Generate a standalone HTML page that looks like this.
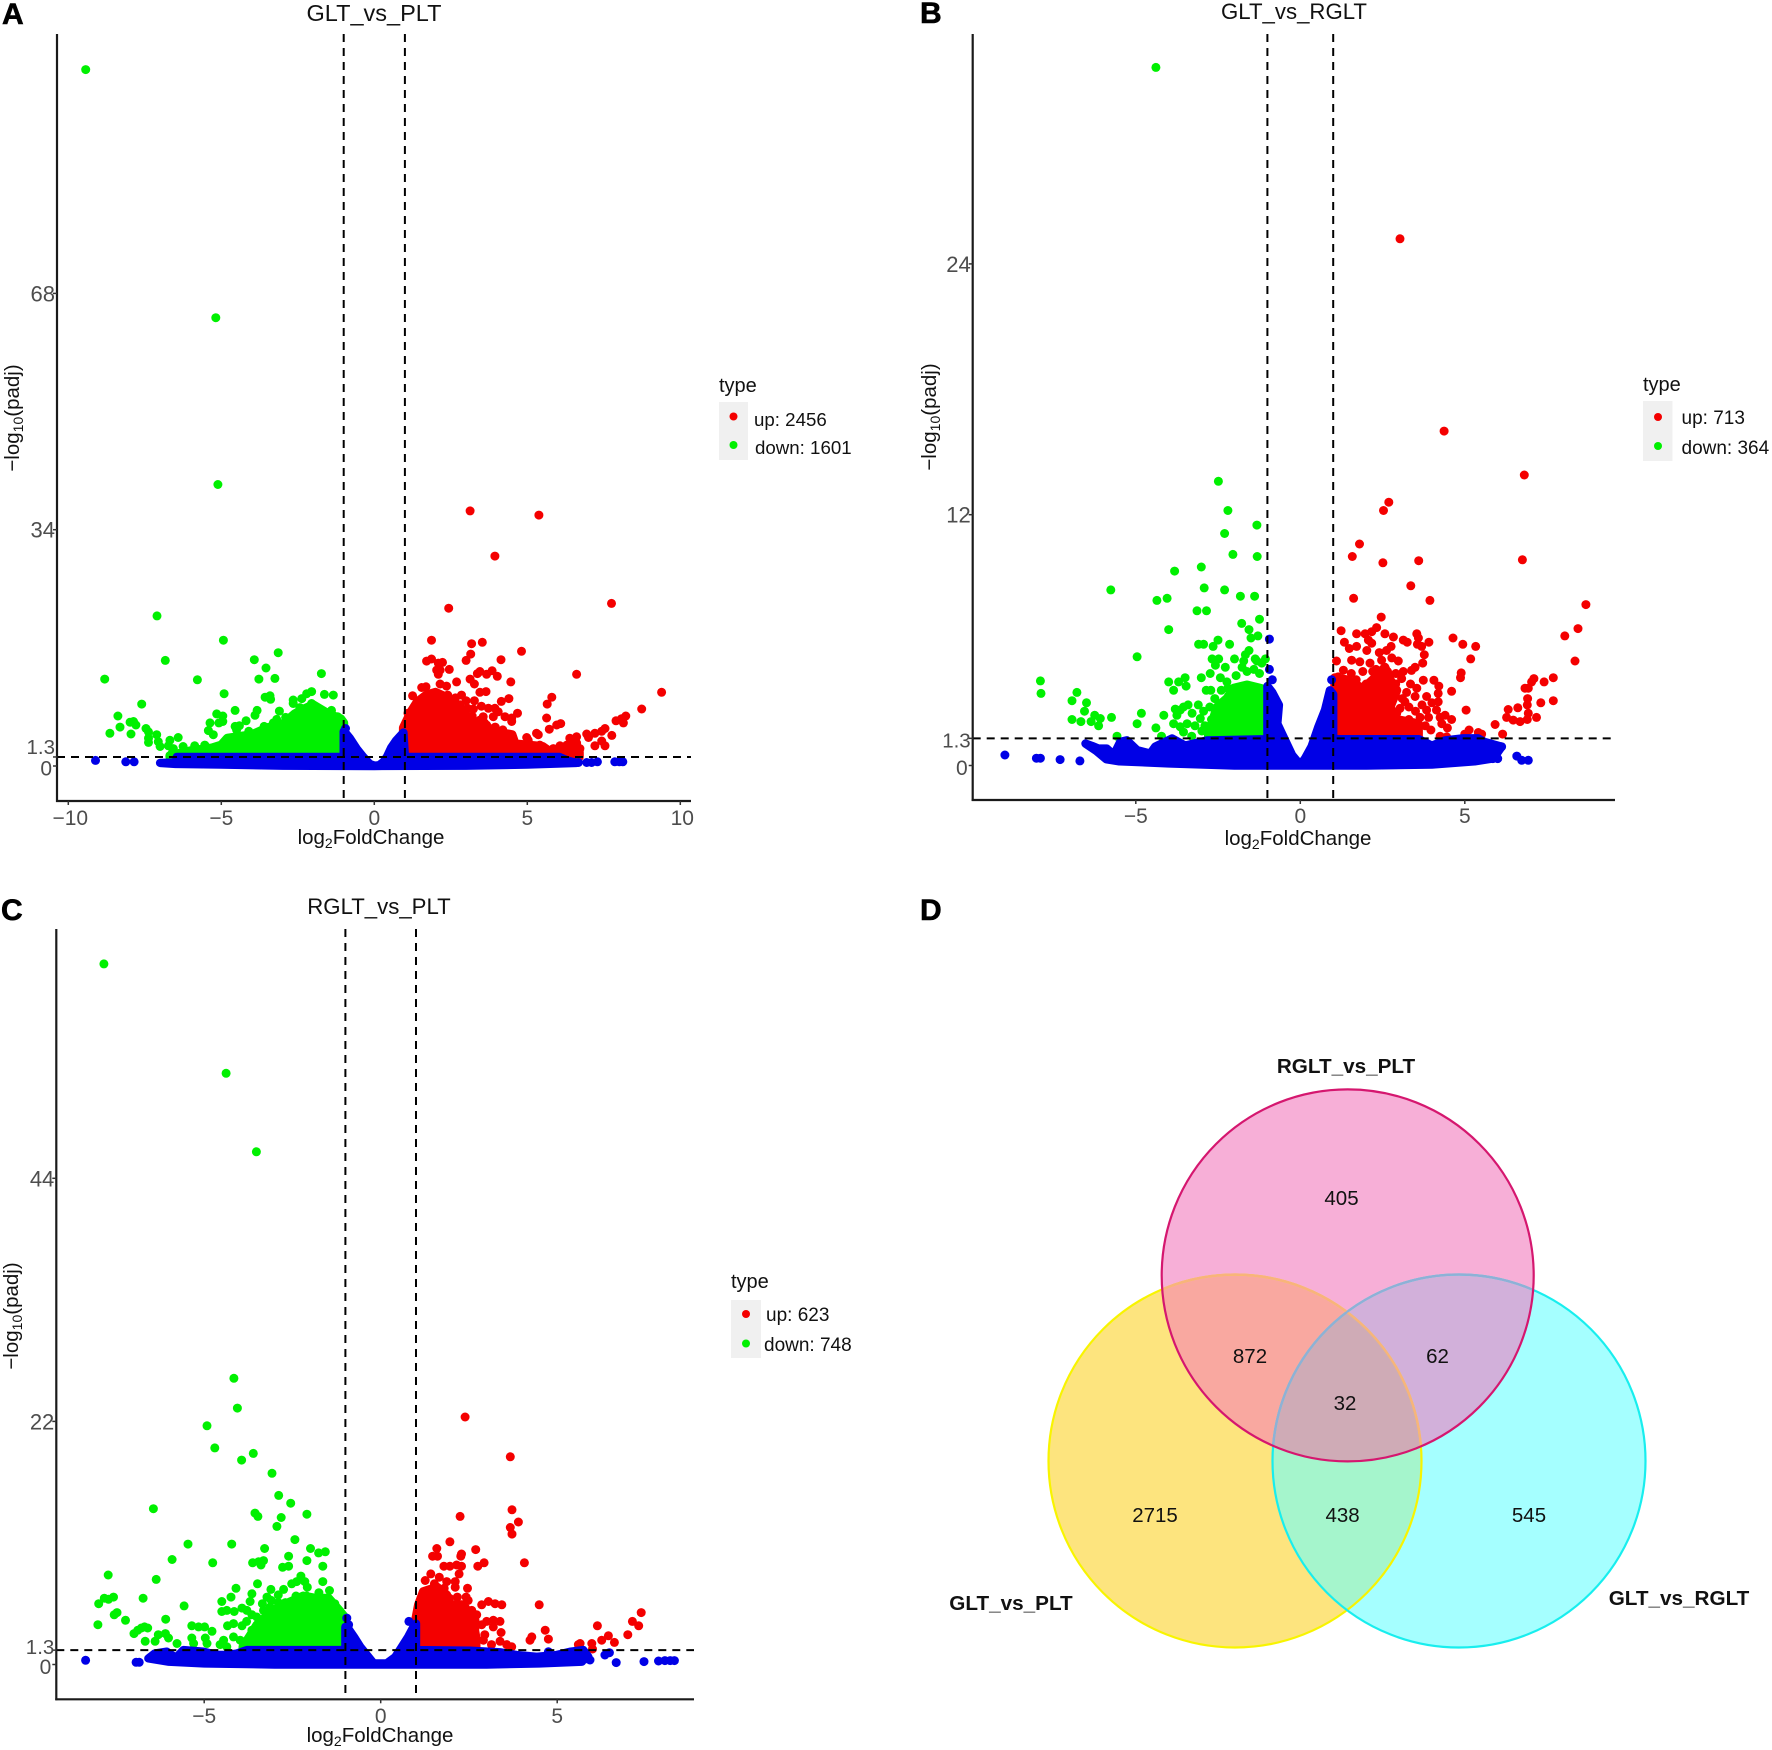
<!DOCTYPE html>
<html lang="en">
<head>
<meta charset="utf-8">
<title>Volcano plots and Venn diagram</title>
<style>
html,body{margin:0;padding:0;background:#fff}
svg{display:block}
text{font-family:"Liberation Sans",sans-serif}
</style>
</head>
<body>
<svg id="figure" xmlns="http://www.w3.org/2000/svg" width="1772" height="1750" viewBox="0 0 1772 1750">
<rect width="1772" height="1750" fill="#fff"/>

<g id="panel-a"></g>
<g id="panel-b"></g>
<g id="panel-c"></g>

<text x="2" y="24" font-size="30" font-weight="bold" fill="#000" stroke="#000" stroke-width="0.6">A</text>
<text x="920" y="23" font-size="30" font-weight="bold" fill="#000" stroke="#000" stroke-width="0.6">B</text>
<text x="1" y="920" font-size="30" font-weight="bold" fill="#000" stroke="#000" stroke-width="0.6">C</text>
<text x="920" y="920" font-size="30" font-weight="bold" fill="#000" stroke="#000" stroke-width="0.6">D</text>

<text x="374" y="21" font-size="23.5" text-anchor="middle" fill="#111">GLT_vs_PLT</text>
<text x="1294" y="19" font-size="22.2" text-anchor="middle" fill="#111">GLT_vs_RGLT</text>
<text x="379" y="914" font-size="22.2" text-anchor="middle" fill="#111">RGLT_vs_PLT</text>

<text x="371" y="844" font-size="20.5" text-anchor="middle" fill="#111">log<tspan dy="4" font-size="14">2</tspan><tspan dy="-4">FoldChange</tspan></text>
<text x="1298" y="845" font-size="20.5" text-anchor="middle" fill="#111">log<tspan dy="4" font-size="14">2</tspan><tspan dy="-4">FoldChange</tspan></text>
<text x="380" y="1742" font-size="20.5" text-anchor="middle" fill="#111">log<tspan dy="4" font-size="14">2</tspan><tspan dy="-4">FoldChange</tspan></text>

<text transform="translate(19,418) rotate(-90)" font-size="20.5" text-anchor="middle" fill="#111">−log<tspan dy="4" font-size="14">10</tspan><tspan dy="-4">(padj)</tspan></text>
<text transform="translate(936,417) rotate(-90)" font-size="20.5" text-anchor="middle" fill="#111">−log<tspan dy="4" font-size="14">10</tspan><tspan dy="-4">(padj)</tspan></text>
<text transform="translate(18,1316) rotate(-90)" font-size="20.5" text-anchor="middle" fill="#111">−log<tspan dy="4" font-size="14">10</tspan><tspan dy="-4">(padj)</tspan></text>

<g>
  <text x="719" y="392" font-size="20" fill="#111">type</text>
  <rect x="719" y="402" width="29" height="58" fill="#f0f0f0"/>
  <circle cx="733.5" cy="416.5" r="4" fill="#f40000"/>
  <circle cx="733.5" cy="445" r="4" fill="#00f000"/>
  <text x="754" y="426" font-size="18.7" fill="#111">up: 2456</text>
  <text x="755" y="454" font-size="18.7" fill="#111">down: 1601</text>
</g>
<g>
  <text x="1643" y="391" font-size="20" fill="#111">type</text>
  <rect x="1643" y="401" width="29.500" height="60" fill="#f0f0f0"/>
  <circle cx="1658" cy="417" r="4" fill="#f40000"/>
  <circle cx="1658" cy="446" r="4" fill="#00f000"/>
  <text x="1681.500" y="424" font-size="19" fill="#111">up: 713</text>
  <text x="1681.500" y="454" font-size="19" fill="#111">down: 364</text>
</g>
<g>
  <text x="731" y="1288" font-size="20" fill="#111">type</text>
  <rect x="731" y="1300" width="30" height="58" fill="#f0f0f0"/>
  <circle cx="746" cy="1314" r="4" fill="#f40000"/>
  <circle cx="746" cy="1343.500" r="4" fill="#00f000"/>
  <text x="766" y="1321" font-size="19" fill="#111">up: 623</text>
  <text x="764" y="1351" font-size="19" fill="#111">down: 748</text>
</g>

<g>
  <defs>
    <clipPath id="clip-pink"><circle cx="1347.700" cy="1275.400" r="186"/></clipPath>
    <clipPath id="clip-yellow"><circle cx="1235" cy="1461" r="186.500"/></clipPath>
    <clipPath id="clip-cyan"><circle cx="1459" cy="1461" r="186.500"/></clipPath>
  </defs>
  <circle cx="1235" cy="1461" r="186.500" fill="#fde47e"/>
  <circle cx="1459" cy="1461" r="186.500" fill="#a5ffff"/>
  <circle cx="1347.700" cy="1275.400" r="186" fill="#f7afd7"/>
  <g clip-path="url(#clip-yellow)"><circle cx="1347.700" cy="1275.400" r="186" fill="#f9a8a0"/></g>
  <g clip-path="url(#clip-cyan)"><circle cx="1347.700" cy="1275.400" r="186" fill="#d2b0da"/></g>
  <g clip-path="url(#clip-cyan)"><circle cx="1235" cy="1461" r="186.500" fill="#a5f5cc"/></g>
  <g clip-path="url(#clip-cyan)"><g clip-path="url(#clip-yellow)"><circle cx="1347.700" cy="1275.400" r="186" fill="#cfabb6"/></g></g>
  <circle cx="1235" cy="1461" r="186.500" fill="none" stroke="#f8f400" stroke-width="2.200"/>
  <circle cx="1459" cy="1461" r="186.500" fill="none" stroke="#18eeee" stroke-width="2.200"/>
  <g clip-path="url(#clip-pink)">
    <circle cx="1235" cy="1461" r="186.500" fill="none" stroke="#f8b37c" stroke-width="2.200"/>
    <circle cx="1459" cy="1461" r="186.500" fill="none" stroke="#8fb0d6" stroke-width="2.200"/>
  </g>
  <circle cx="1347.700" cy="1275.400" r="186" fill="none" stroke="#d5176f" stroke-width="2.200"/>
  <g font-size="20.500" text-anchor="middle" fill="#111">
    <text x="1341.500" y="1205">405</text>
    <text x="1250" y="1363">872</text>
    <text x="1437.500" y="1363">62</text>
    <text x="1345" y="1410">32</text>
    <text x="1155" y="1522">2715</text>
    <text x="1342.600" y="1522">438</text>
    <text x="1529" y="1522">545</text>
  </g>
  <g font-size="20.700" font-weight="bold" text-anchor="middle" fill="#111">
    <text x="1346" y="1073">RGLT_vs_PLT</text>
    <text x="1011" y="1610">GLT_vs_PLT</text>
    <text x="1679" y="1605">GLT_vs_RGLT</text>
  </g>
</g>
</svg>

<script>
/* ---------- Panel A data (log2FC, -log10 padj) ---------- */
const aXTicks=[-10,-5,0,5,10];
const aXTickLabels=["−10","−5","0","5","10"];
const aYTicks=[0,1.3,34,68];
const aYTickLabels=["0","1.3","34","68"];
const aDownPoints=[[-9.43,100.2],[-5.18,64.5],[-5.11,40.5],[-7.1,21.6],[-4.93,18.1],[-6.83,15.2],[-8.81,12.5],[-5.78,12.4],[-3.92,15.3],[-3.14,16.3],[-3.54,14.1],[-3.77,12.5],[-3.25,12.6],[-1.73,13.3],[-4.91,10.4],[-1.63,10.3],[-1.34,10.2],[-3.57,9.9],[-3.41,10.1],[-3.39,9.6],[-7.6,8.9],[-4.55,8],[-3.83,8],[-3.9,7.3],[-3.1,7.9],[-8.38,7.2],[-5.15,7.5],[-4.95,7.2],[-5.08,6.2],[-4.95,6.4],[-7.98,6.3],[-7.87,6.4],[-7.79,5.9],[-8.31,5.6],[-8.64,4.7],[-7.95,4.6],[-4.19,6.5],[-3.19,6.7],[-5.37,6.2],[-5.42,5.1],[-5.26,4.5],[-4.55,5.7],[-4.41,5.8],[-4.5,5.2],[-7.46,5.4],[-7.38,4.9],[-7.38,4],[-7.38,3.4],[-7.11,4.5],[-7.06,3.5],[-7,2.8],[-6.68,3.7],[-6.41,4.1],[-6.73,2.9],[-6.57,2.5],[-6.25,2.8],[-5.87,2.9],[-5.54,3],[-5.15,2.5],[-6.6,1.9],[-2.65,9],[-2.37,9.7],[-2.21,10.4],[-2.05,10.7],[-2.65,9.5],[-2.43,8.4],[-2.05,9],[-2.43,7.6],[-1.77,8],[-1.6,7.6],[-1.4,8],[-1.2,7.1],[-2.9,7],[-3.3,6.2],[-3.6,5.7],[-4.1,5]];
const aUpPoints=[[3.13,36.7],[5.38,36.1],[3.94,30.2],[2.43,22.7],[7.75,23.4],[1.87,18.1],[3.18,17.6],[3.53,17.8],[4.81,16.5],[3.15,16.1],[3,15.2],[4.14,15.3],[1.71,15.1],[1.87,15.4],[2.09,14.8],[2.23,14.9],[2.04,13.8],[2.15,13.8],[2.09,13.2],[2.45,13.9],[6.61,13.2],[3.37,13.3],[3.45,13.6],[3.67,13.2],[3.85,13.7],[4.02,12.9],[2.69,12.1],[3.13,12.5],[3.27,11.8],[4.46,12.1],[1.55,11.3],[1.69,11.4],[2.15,11.8],[2.36,11.5],[9.39,10.6],[1.25,10.1],[3.45,10.6],[3.65,10.7],[5.8,9.9],[5.65,8.9],[4.4,9.7],[4.15,9.3],[3.27,9.4],[3.24,8.2],[8.74,8.2],[3.5,8.6],[3.73,8.3],[3.94,8.3],[4.05,7.8],[3.89,7.1],[4.68,7.6],[4.27,7.1],[4.49,6.9],[4.49,6.4],[5.63,6.9],[5.72,5.3],[5.96,5.9],[6.09,6.1],[8.22,7.2],[8.08,6.8],[7.9,6.5],[8.14,6.2],[7.54,5.4],[7.43,5],[7.21,4.7],[6.94,4.6],[7,4.1],[7.76,4.4],[7.43,3.6],[7.54,2.9],[7.21,2.9],[6.61,4.2],[6.39,4],[6.72,2.5],[6.39,2.8],[6.07,2.9],[5.85,2.5],[5.3,4.7],[5.36,4.5],[4.98,4.1],[5.03,3.7],[5.41,3],[5.14,2.8],[4.81,2.5],[6.5,3.4],[6.61,3.3],[6.29,3],[4.32,4.5],[4.49,4.2],[4,4.2],[3.67,5.9],[3.45,6.6],[3.56,7.1],[3.18,5.9],[3.34,6.1],[3.78,5.4],[2.65,9.8],[2.85,10.2],[3,9.4],[2.8,8.8],[1.1,7.6],[2.4,10.2],[2,10.2],[3.05,8.3],[3.2,7.2],[3.1,6.6],[3.6,6.2],[3.95,5.6],[4.2,5.2]];
const aNsPoints=[[-9.11,0.8],[-8.12,0.6],[-7.85,0.6],[5.63,0.86],[5.85,0.86],[6.01,0.86],[6.29,0.5],[6.56,0.5],[6.67,0.5],[6.94,0.5],[7.1,0.5],[7.29,0.6],[7.86,0.6],[8.01,0.6],[8.12,0.6],[-0.94,5.4]];
const aDownCore=[[-6.68,1.5],[-6,2.2],[-5.3,2.6],[-5,3],[-4.8,4],[-4,4.5],[-3.5,5.5],[-3,6],[-2.6,7.5],[-2.4,8],[-2,8.8],[-1.5,7.5],[-1.1,6.8],[-1,6.2]];
const aUpCore=[[0.95,5.5],[1.2,7.8],[1.4,9.2],[1.7,10.2],[2,10.6],[2.3,10],[2.6,9.2],[2.9,8],[3.1,6.8],[3.4,6],[3.9,5],[4.5,4.5],[4.6,3.2],[5.5,2.8],[5.7,2.2],[6.1,2],[6.6,3],[6.7,2]];
const aNsTop=[[-7,0.45],[-6.5,0.5],[-6.45,1.3],[-1,1.3],[-1,5],[-0.95,4.8],[-0.8,4],[-0.58,2.5],[-0.36,1.3],[-0.15,0.3],[0,0.05],[0.15,0.1],[0.3,0.6],[0.42,1.4],[0.55,2.6],[0.72,3.7],[0.95,4.8],[1,1.3],[6.05,1.3],[6.3,0.8],[6.6,0.45]];
const aNsBottom=[[6.6,0.45],[6,0.35],[5,0.2],[3,0.05],[0,0],[-3,0.05],[-5,0.2],[-6.5,0.3],[-7,0.45]];

/* ---------- Panel B data ---------- */
const bXTicks=[-5,0,5];
const bXTickLabels=["−5","0","5"];
const bYTicks=[0,1.3,12,24];
const bYTickLabels=["0","1.3","12","24"];
const bDownPoints=[[-4.39,33.4],[-2.49,13.6],[-2.2,12.2],[-1.32,11.5],[-2.3,11.1],[-2.05,10.1],[-1.31,10],[-3.01,9.5],[-3.82,9.3],[-2.92,8.5],[-2.3,8.4],[-5.76,8.4],[-4.05,8],[-4.36,7.9],[-1.82,8.1],[-1.39,8.1],[-3.14,7.4],[-2.85,7.4],[-1.24,7],[-1.78,6.8],[-1.56,6.5],[-4,6.5],[-1.29,6.2],[-1.5,6.1],[-2.5,6],[-3.09,5.8],[-2.94,5.8],[-2.15,5.8],[-2.65,5.7],[-4.96,5.2],[-1.56,5.5],[-1.67,5.3],[-2,5.1],[-1.72,5],[-1.37,5.1],[-1.06,5.1],[-1.17,4.9],[-1.32,5],[-2.68,5.1],[-2.48,5.1],[-2.58,4.8],[-2.28,4.7],[-1.77,4.7],[-1.62,4.5],[-1.41,4.6],[-2.74,4.4],[-3.01,4.2],[-1.95,4.3],[-1.24,4.4],[-7.9,4.05],[-7.88,3.45],[-4,4],[-3.7,4],[-3.5,4.2],[-3.47,3.8],[-2.43,4.2],[-2.23,4],[-3.85,3.6],[-2.86,3.6],[-2.72,3.6],[-6.79,3.5],[-6.94,3.1],[-6.5,3],[-6.56,2.6],[-6.25,2.4],[-6.08,2.25],[-5.74,2.3],[-6.94,2.2],[-6.67,2.1],[-6.36,2.1],[-6.13,1.9],[-5.57,1.4],[-4.83,2.5],[-4.96,2],[-4.15,2.4],[-4.39,1.8],[-4.22,1.4],[-3.85,2],[-3.8,2.7],[-3.65,2.65],[-3.55,2.8],[-3.41,2.9],[-3.29,2.5],[-3.75,2.4],[-3.44,2],[-3.65,1.85],[-2.94,2.6],[-3.04,2.25],[-2.99,1.65],[-3.55,1.6],[-2.6,3.2],[-2.75,2.8],[-2.4,3.6],[-2.2,3.7],[-2.7,2.2],[-2.9,1.9],[-2.7,1.6],[-2.45,2.6],[-3.2,1.9],[-3.3,1.4],[-3.1,2.9],[-2.55,1.9]];
const bUpPoints=[[3.03,25.2],[4.37,16],[6.81,13.9],[6.75,9.84],[2.69,12.6],[2.53,12.2],[1.8,10.6],[1.58,10],[2.51,9.7],[3.6,9.8],[3.36,8.6],[1.62,8],[3.94,7.9],[8.68,7.7],[2.46,7.1],[8.44,6.55],[8.04,6.2],[1.24,6.45],[2.32,6.6],[1.71,6.3],[1.97,6.3],[2.17,6.4],[2.57,6.3],[2.83,6.15],[1.34,5.9],[1.49,5.6],[1.71,5.7],[2.07,6],[2.17,5.85],[2.02,5.5],[3.13,6],[3.25,5.9],[3.54,6.3],[3.59,6.1],[3.56,5.8],[3.69,5.7],[3.91,5.9],[2.62,5.5],[2.76,5.7],[4.64,6.1],[4.94,5.8],[5.33,5.7],[5.18,5.1],[8.35,5],[3.77,5.3],[3.72,4.9],[3.49,4.7],[3.38,4.55],[2.98,5],[2.78,5.15],[1.1,5],[1.56,5.04],[1.81,4.96],[2.12,4.9],[2.47,5.04],[1.31,4.56],[1.15,4.24],[4.89,4.43],[4.87,4.2],[3.13,4.5],[3.08,4.16],[3.74,4.08],[4.06,4.08],[4.21,3.8],[4.19,3.45],[4.6,3.55],[3.54,3.7],[3.84,3.3],[3.49,3.3],[3.23,3.5],[3.18,3.05],[4.19,3.05],[4.14,2.65],[3.84,2.65],[3.64,2.3],[4.25,2.3],[4.4,2.4],[4.6,2.2],[5.04,2.65],[7.69,4.2],[7.41,4],[7.1,4.16],[7.03,4],[6.93,3.7],[6.83,3.7],[7.69,3.1],[7.31,3],[6.91,3.2],[6.9,2.9],[6.61,2.76],[6.32,2.68],[6.93,2.5],[7.18,2.3],[6.27,2.3],[6.47,2.17],[6.68,2.1],[6.9,2.2],[5.92,1.96],[6.15,1.5],[4.47,1.8],[3.97,1.7],[4.25,1.4],[4.45,1.37],[5,1.5],[5.13,1.7],[5.41,1.58],[5.51,1.5],[3.54,1.77],[3.13,1.85],[2.93,2.5],[3.03,2.73],[2.83,3.2],[1.9,4.5],[2.2,4.5],[1.55,4.4],[2.4,5.4],[2.65,4.5],[1.2,3.8],[1.5,3.8],[1.7,4.1],[2,3.9],[2.3,4.6],[2.5,4.4],[2.9,3.9],[3.1,3.2],[3.3,2.8],[3.3,2.2],[3.5,2.6],[3.7,2.9],[3.9,2.3],[3.8,1.9],[3.3,1.6],[3.1,1.5],[4,3],[4.3,2],[2.9,4.4],[3.35,3.9]];
const bNsPoints=[[-8.98,0.5],[-8.02,0.35],[-7.9,0.35],[-7.3,0.28],[-6.7,0.22],[-0.94,6.05],[-0.94,4.6],[-0.85,4.1],[6.58,0.45],[6.73,0.25],[6.93,0.25],[0.95,4.1],[6.12,0.9],[6,0.33],[5.85,0.33]];
const bDownCore=[[-2.79,1.5],[-2.53,2.8],[-2.23,3.2],[-2.03,3.7],[-1.62,3.85],[-1.22,3.7],[-1.06,3.6],[-1,3.4]];
const bUpCore=[[1.05,4.2],[1.41,4.1],[1.91,3.68],[2.27,4.2],[2.57,4.7],[2.73,4.1],[2.93,3.6],[2.73,2.8],[2.93,2.2],[3.59,2],[3.59,1.5]];
const bNsTop=[[-6.53,1.05],[-6.33,0.94],[-6.13,0.81],[-5.88,0.81],[-5.67,0.5],[-5.47,1.13],[-5.27,1.2],[-4.96,0.73],[-4.56,0.57],[-4.41,0.9],[-3.9,1.29],[-3.5,0.95],[-2.84,1.2],[-1,1.26],[-1,3.8],[-0.85,3.5],[-0.65,2.9],[-0.7,2],[-0.46,1.2],[-0.25,0.5],[0,0.03],[0.14,0.33],[0.34,0.9],[0.55,1.85],[0.75,2.65],[0.9,3.6],[1,3.4],[1,1.26],[3.6,1.26],[4,0.95],[4.4,1.2],[4.95,1.3],[5.4,1.3],[5.6,1.13],[6.12,0.9],[5.9,0.4]];
const bNsBottom=[[5.9,0.35],[5.3,0.2],[4,0.05],[2,0],[0,0],[-2,0],[-4,0.1],[-5.5,0.2],[-5.9,0.3],[-6.2,0.7],[-6.53,1.05]];

/* ---------- Panel C data ---------- */
const cXTicks=[-5,0,5];
const cXTickLabels=["−5","0","5"];
const cYTicks=[0,1.3,22,44];
const cYTickLabels=["0","1.3","22","44"];
const cDownPoints=[[-7.84,63.4],[-4.38,53.5],[-3.52,46.4],[-4.16,25.9],[-4.06,23.2],[-4.92,21.6],[-4.7,19.6],[-3.61,19.1],[-3.94,18.5],[-3.08,17.3],[-2.89,15.3],[-2.55,14.6],[-6.44,14.1],[-3.56,13.7],[-3.48,13.4],[-2.09,13.6],[-2.82,13.3],[-2.94,12.5],[-2.43,11.3],[-5.46,10.9],[-4.22,10.9],[-3.29,10.5],[-1.99,10.5],[-2.61,9.8],[-1.76,10.1],[-1.57,10.2],[-5.91,9.5],[-4.76,9.2],[-3.63,9.2],[-3.46,9.3],[-3.32,9.4],[-3.39,9],[-2.09,9.4],[-1.64,8.9],[-2.78,8.8],[-2.61,8.9],[-7.72,8.1],[-6.36,7.7],[-2.26,8],[-2.52,7.3],[-2.38,7.5],[-2.15,7.5],[-2.08,7],[-1.64,7.5],[-3.49,7.3],[-4.1,6.9],[-4.24,6.1],[-4.5,5.7],[-3.65,6.4],[-3.7,5.7],[-3.11,6.8],[-3.22,6.1],[-2.75,6.8],[-2.9,6.3],[-1.45,6.7],[-7.99,5.5],[-7.83,6],[-7.71,5.9],[-7.57,6.1],[-6.73,6],[-5.57,5.3],[-4.5,4.8],[-4.36,4.9],[-4.15,4.8],[-3.93,5.1],[-3.79,4.9],[-3.65,4.5],[-3.51,4.3],[-7.55,4.5],[-7.47,4.7],[-8.01,3.6],[-7.23,4],[-6.09,4.1],[-6.69,3.4],[-6.78,3.3],[-6.88,3.1],[-6.99,2.8],[-6.6,3.3],[-6.67,2.1],[-6.39,2.1],[-6.3,2.7],[-6.1,2.8],[-6.01,2.4],[-5.77,1.9],[-5.35,3.5],[-5.16,3.4],[-4.99,3.4],[-4.78,3],[-5.35,2.4],[-5.3,1.9],[-4.97,2.4],[-4.92,1.9],[-4.45,2.2],[-4.55,1.8],[-4.36,1.6],[-4.34,3.5],[-4.17,3.7],[-3.93,3.5],[-4.17,2.5],[-3.98,2.2],[-3.65,3.1],[-3.32,4.9],[-3.13,5.2],[-2.94,4.6],[-2.66,4.9],[-3.1,5.8],[-2.4,6.2],[-2.1,6.2],[-1.9,5.7],[-1.55,5.9],[-2.7,5.6],[-3.35,5.5],[-3.8,3.9],[-3.6,2.4],[-2.9,5.6],[-1.75,6.5],[-1.3,5.5],[-1.15,4.8]];
const cUpPoints=[[2.39,22.4],[3.67,18.8],[3.72,14],[2.25,13.4],[3.9,12.9],[3.67,12.4],[3.72,11.8],[1.96,11.1],[1.59,10.5],[2.69,10.4],[1.47,9.8],[1.61,9.8],[2.29,10],[2.27,9.8],[4.07,9.2],[2.93,9.2],[2.75,8.9],[1.79,8.9],[1.96,8.9],[2.15,9],[2.29,8.9],[1.42,8.2],[1.26,7.6],[1.52,7.3],[1.66,7.9],[1.87,7.5],[2.22,8.2],[2.11,7.5],[2.11,7],[2.46,6.9],[2.17,6.1],[2.42,6.1],[2.48,5.8],[4.49,5.4],[2.86,5.4],[3.05,5.7],[3.24,5.5],[3.43,5.4],[2.58,4.9],[2.72,4.5],[2.67,4],[2.86,3.6],[3,3.9],[3.19,4],[3.38,3.9],[2.67,3.3],[3.19,3.4],[3.41,2.9],[2.95,2.7],[2.91,2.2],[3.14,1.8],[3.38,2.1],[3.57,1.8],[3.71,1.6],[7.38,4.7],[7.13,3.9],[7.31,3.5],[7,2.7],[6.14,3.5],[6.45,2.6],[6.26,2.2],[6.62,2],[4.66,3.1],[4.75,2.3],[4.28,2.5],[4.23,2.2],[5.65,1.9],[5.98,1.9],[6,1.4],[5.6,1.8],[1.8,6.9],[1.6,7],[1.4,6.5],[1.95,6]];
const cNsPoints=[[-8.36,0.38],[-6.93,0.2],[-6.84,0.2],[5.93,0.41],[6.35,0.86],[6.48,1.07],[6.67,0.17],[7.46,0.26],[7.87,0.32],[8.05,0.35],[8.2,0.35],[8.32,0.35],[-0.96,4.2],[-0.91,3.6],[0.8,3.9],[4.75,1.15]];
const cDownCore=[[-3.9,1.6],[-3.7,2.6],[-3.5,3.6],[-3.22,4.4],[-2.89,5.2],[-2.61,5.6],[-2.19,6.2],[-1.86,6],[-1.48,6],[-1.2,5],[-1,4.2]];
const cUpCore=[[1,4.2],[1.07,5.4],[1.21,6.6],[1.59,7],[1.87,6.3],[1.87,5.4],[2.34,5.4],[2.6,4.2],[2.7,2.4],[2.7,1.6]];
const cNsTop=[[-6.58,0.55],[-6.4,1],[-6.06,1.16],[-5.8,0.6],[-5.59,1.3],[-5.02,1.16],[-4.64,0.86],[-4.36,0.86],[-4.07,1],[-3.79,1.3],[-1,1.3],[-1,3.4],[-0.91,3.2],[-0.75,2.46],[-0.58,1.6],[-0.39,0.86],[-0.2,0.1],[0.17,0.1],[0.41,0.66],[0.6,1.6],[0.78,2.5],[0.93,3.4],[1,3.7],[1,1.3],[2.53,1.25],[3.38,1.1],[3.85,0.86],[4.42,0.7],[4.99,0.86],[5.36,1.15],[5.74,1.3],[5.88,0.7],[5.7,0.3]];
const cNsBottom=[[5.7,0.25],[4.5,0.1],[3,0],[0,0],[-3,0],[-5,0.1],[-6,0.25],[-6.58,0.55]];

const SVGNS='http://www.w3.org/2000/svg';
const DOT_R=4.5;
const UP='#f40000', DOWN='#00f000', NS='#0000e6', AXIS='#1a1a1a', TICKTEXT='#4d4d4d';
const THRESHOLD=1.3, FOLD=1;

function el(parent,tag,attrs){
  const node=document.createElementNS(SVGNS,tag);
  for(const k in attrs){node.setAttribute(k,attrs[k]);}
  parent.appendChild(node);
  return node;
}

function drawVolcano(p){
  const root=document.getElementById(p.id);
  const sx=function(v){return p.xZero+v*p.xUnit;};
  const sy=function(v){return p.yZero-v*p.yUnit;};

  function corePath(top,bottom){
    let d='';
    top.forEach(function(pt,i){d+=(i?'L':'M')+sx(pt[0]).toFixed(1)+' '+sy(pt[1]).toFixed(1);});
    bottom.forEach(function(pt){d+='L'+sx(pt[0]).toFixed(1)+' '+sy(pt[1]).toFixed(1);});
    return d+'Z';
  }
  function drawCore(top,bottom,color,name,width){
    const core=el(root,'path',{d:corePath(top,bottom),fill:color,stroke:color,'stroke-width':width,'stroke-linejoin':'round'});
    
    
  }
  function drawDots(points,color,name){
    const group=el(root,'g',{fill:color});
    
    
    points.forEach(function(pt){
      const dot=el(group,'circle',{cx:sx(pt[0]).toFixed(1),cy:sy(pt[1]).toFixed(1),r:DOT_R});
      
      
    });
  }
  function base(core){
    return [[core[core.length-1][0],THRESHOLD],[core[0][0],THRESHOLD]];
  }

  drawCore(p.downCore,base(p.downCore),DOWN,'down-regulated-dense-cloud',DOT_R*2);
  drawCore(p.upCore,base(p.upCore),UP,'up-regulated-dense-cloud',DOT_R*2);
  drawDots(p.down,DOWN,'down-regulated');
  drawDots(p.up,UP,'up-regulated');
  drawCore(p.nsTop,p.nsBottom,NS,'not-significant-dense-cloud',8.4);
  drawDots(p.ns,NS,'not-significant');

  /* threshold lines */
  [-FOLD,FOLD].forEach(function(v){
    const line=el(root,'line',{x1:sx(v),x2:sx(v),y1:p.axisTop,y2:p.axisBottom,stroke:'#000','stroke-width':2,'stroke-dasharray':'8 6'});
    
    
  });
  const hLine=el(root,'line',{x1:p.axisLeft,x2:p.axisRight,y1:sy(THRESHOLD),y2:sy(THRESHOLD),stroke:'#000','stroke-width':2,'stroke-dasharray':'8 6'});
  
  

  /* axes */
  const yAxis=el(root,'line',{x1:p.axisLeft,x2:p.axisLeft,y1:p.axisTop,y2:p.axisBottom+1,stroke:AXIS,'stroke-width':2.2});
  
  
  const xAxis=el(root,'line',{x1:p.axisLeft-1,x2:p.axisRight,y1:p.axisBottom,y2:p.axisBottom,stroke:AXIS,'stroke-width':2.2});
  
  

  p.xTicks.forEach(function(v,i){
    const tick=el(root,'line',{x1:sx(v),x2:sx(v),y1:p.axisBottom,y2:p.axisBottom+4,stroke:'#333','stroke-width':1.5});
    
    
    const label=el(root,'text',{x:sx(v)+(Math.abs(v)===10?2:0),y:p.xLabelBase,'font-size':21,'text-anchor':'middle',fill:TICKTEXT});
    label.textContent=p.xTickLabels[i];
    
    
  });
  p.yTicks.forEach(function(v,i){
    const tick=el(root,'line',{x1:p.axisLeft-4,x2:p.axisLeft,y1:sy(v),y2:sy(v),stroke:'#333','stroke-width':1.5});
    
    
    let dy=8, ax=p.axisLeft-2, size=22;
    if(v===0){dy=9.5;ax=p.axisLeft-5;size=21;}
    if(v===THRESHOLD){dy=p.thresholdLabelShift;ax=p.axisLeft-2;size=20.5;}
    const label=el(root,'text',{x:ax,y:sy(v)+dy,'font-size':size,'text-anchor':'end',fill:TICKTEXT});
    label.textContent=p.yTickLabels[i];
    
    
  });
}

drawVolcano({id:'panel-a',xZero:374.3,xUnit:30.6,yZero:766,yUnit:6.95,axisLeft:57,axisRight:691,axisTop:34,axisBottom:801,xLabelBase:825,thresholdLabelShift:-3,
  xTicks:aXTicks,xTickLabels:aXTickLabels,yTicks:aYTicks,yTickLabels:aYTickLabels,
  down:aDownPoints,up:aUpPoints,ns:aNsPoints,downCore:aDownCore,upCore:aUpCore,nsTop:aNsTop,nsBottom:aNsBottom});
drawVolcano({id:'panel-b',xZero:1300.3,xUnit:32.9,yZero:765.5,yUnit:20.9,axisLeft:972.7,axisRight:1615,axisTop:34,axisBottom:800,xLabelBase:823,thresholdLabelShift:9,
  xTicks:bXTicks,xTickLabels:bXTickLabels,yTicks:bYTicks,yTickLabels:bYTickLabels,
  down:bDownPoints,up:bUpPoints,ns:bNsPoints,downCore:bDownCore,upCore:bUpCore,nsTop:bNsTop,nsBottom:bNsBottom});
drawVolcano({id:'panel-c',xZero:380.7,xUnit:35.3,yZero:1664.5,yUnit:11.05,axisLeft:56.3,axisRight:694,axisTop:929,axisBottom:1699.3,xLabelBase:1723,thresholdLabelShift:4,
  xTicks:cXTicks,xTickLabels:cXTickLabels,yTicks:cYTicks,yTickLabels:cYTickLabels,
  down:cDownPoints,up:cUpPoints,ns:cNsPoints,downCore:cDownCore,upCore:cUpCore,nsTop:cNsTop,nsBottom:cNsBottom});
</script>
</body>
</html>
